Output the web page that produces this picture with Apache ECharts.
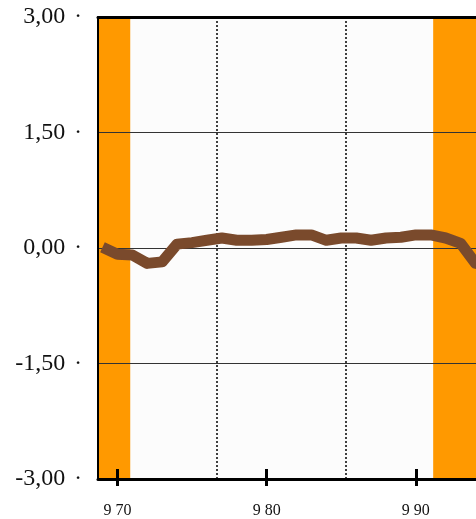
<!DOCTYPE html>
<html>
<head>
<meta charset="utf-8">
<script src="https://cdn.jsdelivr.net/npm/echarts@6/dist/echarts.min.js"></script>
<style>
html,body{margin:0;padding:0;background:#fff;}
#chart{width:476px;height:519px;}
</style>
</head>
<body>
<div id="chart"></div>
<script>
// Data
var years = [1969,1970,1971,1972,1973,1974,1975,1976,1977,1978,1979,1980,1981,1982,1983,1984,1985,1986,1987,1988,1989,1990,1991,1992,1993,1994,1995];
var values = [0.01,-0.08,-0.09,-0.20,-0.18,0.05,0.07,0.10,0.13,0.10,0.10,0.11,0.14,0.17,0.17,0.10,0.13,0.13,0.10,0.13,0.14,0.17,0.17,0.13,0.06,-0.20,-0.22];
var xTickValues = [1970,1980,1990];
var xTickLabels = ['9 70','9 80','9 90'];
var bandRanges = [[1968.7,1970.86],[1991.16,1994.03]];
var dottedLines = [1976.65,1985.3];
var hLines = [1.5,0,-1.5];

var xMin = 1968.7, xMax = 1994.03;
var chart = echarts.init(document.getElementById('chart'), null, {renderer:'canvas'});

var serif = '"Liberation Serif","DejaVu Serif",serif';
var lineData = years.map(function(y,i){return [y, values[i]];});

var markLineData = hLines.map(function(v){
  return {yAxis:v, lineStyle:{color:'#333', width:1.2, type:'solid'}};
}).concat(dottedLines.map(function(v){
  return {xAxis:v, lineStyle:{color:'#000', width:1.5, type:[2,2]}};
}));

var option = {
  animation:false,
  backgroundColor:'#ffffff',
  grid:{left:98, top:17, right:0, height:462, show:true, backgroundColor:'#fcfcfc', borderWidth:0},
  xAxis:[
    {
      type:'value', position:'bottom', min:xMin, max:xMax, z:20,
      axisLine:{show:true, onZero:false, lineStyle:{color:'#000', width:3}},
      axisTick:{show:true, length:7, inside:false, lineStyle:{color:'#000', width:3}, customValues:xTickValues},
      axisLabel:{show:true, customValues:xTickValues, margin:24, color:'#111', fontFamily:serif, fontSize:16,
        formatter:function(v){var i=xTickValues.indexOf(Math.round(v)); return i>=0?xTickLabels[i]:'';}},
      splitLine:{show:false}
    },
    {
      type:'value', position:'bottom', min:xMin, max:xMax, z:20,
      axisLine:{show:false, onZero:false},
      axisTick:{show:true, length:10, inside:true, lineStyle:{color:'#000', width:3}, customValues:xTickValues},
      axisLabel:{show:false},
      splitLine:{show:false}
    },
    {
      type:'value', position:'top', min:xMin, max:xMax, z:20,
      axisLine:{show:true, onZero:false, lineStyle:{color:'#000', width:3}},
      axisTick:{show:false}, axisLabel:{show:false}, splitLine:{show:false}
    }
  ],
  yAxis:{
    type:'value', min:-3, max:3, interval:1.5, z:20,
    axisLine:{show:true, onZero:false, lineStyle:{color:'#000', width:2}},
    axisTick:{show:false},
    splitLine:{show:false},
    axisLabel:{
      margin:16,
      formatter:function(v){return '{v|'+v.toFixed(2).replace('.',',')+'}{d|·}';},
      rich:{
        v:{fontFamily:serif, fontSize:24, color:'#111'},
        d:{fontFamily:serif, fontSize:23, color:'#111', padding:[0,0,0,9]}
      }
    }
  },
  series:[
    {
      type:'line', data:[], z:1, silent:true,
      markArea:{
        silent:true,
        itemStyle:{color:'#FF9900', opacity:1},
        data:bandRanges.map(function(r){return [{xAxis:r[0]},{xAxis:r[1]}];})
      },
      markLine:{
        silent:true, symbol:['none','none'], label:{show:false},
        data:markLineData
      }
    },
    {
      type:'line', data:lineData, z:10, symbol:'none', clip:true,
      lineStyle:{color:'#7A4A2C', width:11, join:'round'}
    }
  ]
};
chart.setOption(option);
</script>
</body>
</html>
